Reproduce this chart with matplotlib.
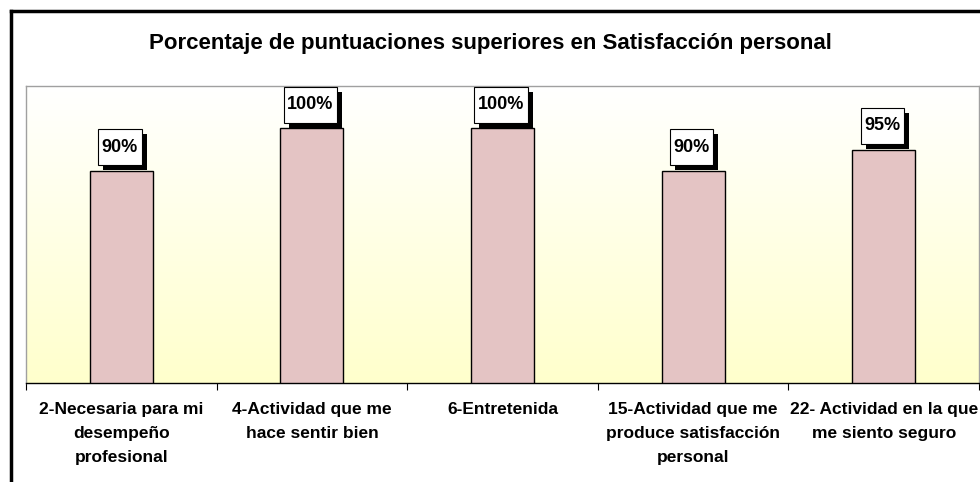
import matplotlib
matplotlib.use("Agg")
import matplotlib.pyplot as plt
import matplotlib.patheffects as pe
from matplotlib.lines import Line2D
from matplotlib.path import Path
import numpy as np

categories = [
    "2-Necesaria para mi\ndesempeño\nprofesional",
    "4-Actividad que me\nhace sentir bien",
    "6-Entretenida",
    "15-Actividad que me\nproduce satisfacción\npersonal",
    "22- Actividad en la que\nme siento seguro",
]
values = [90, 100, 100, 90, 95]
value_labels = ["90%", "100%", "100%", "90%", "95%"]
title = "Porcentaje de puntuaciones superiores en Satisfacción personal"

plt.rcParams['font.family'] = ['Liberation Sans', 'DejaVu Sans']


def label_box(x0, y0, width, height, mutation_size):
    px = 0.2 * mutation_size
    py = 0.52 * mutation_size
    x0, y0 = x0 - px, y0 - py
    x1, y1 = x0 + width + 2 * px, y0 + height + 2 * py
    return Path([(x0, y0), (x1, y0), (x1, y1), (x0, y1), (x0, y0)], closed=True)


fig = plt.figure(figsize=(9.8, 4.82), dpi=100)
ax = fig.add_axes([26/980, 1-383/482, (979-26)/980, (383-86)/482])

ymin, ymax = 40, 110
x = np.arange(len(values))

# gradient background (white at top -> light yellow at bottom)
grad = np.linspace(0, 1, 256).reshape(-1, 1)
top = np.array([1.0, 1.0, 1.0])
bot = np.array([1.0, 1.0, 0.80])
img = top[None, None, :] * (1-grad[:, :, None]) + bot[None, None, :] * grad[:, :, None]
ax.imshow(img, extent=(-0.5, len(values)-0.5, ymin, ymax), origin='upper', aspect='auto', zorder=0)
ax.set_ylim(ymin, ymax)
ax.set_xlim(-0.5, len(values)-0.5)

bars = ax.bar(x, values, width=0.33, color='#E4C4C4', edgecolor='black', linewidth=1.0, zorder=2)

for xi, v, lab in zip(x, values, value_labels):
    t = ax.annotate(lab, (xi, v), xytext=(-1, 11), textcoords='offset points',
                    ha='center', va='bottom', fontsize=13, fontweight='bold',
                    bbox=dict(boxstyle=label_box, fc='white', ec='black', lw=0.8),
                    zorder=5)
    t.get_bbox_patch().set_path_effects([
        pe.SimplePatchShadow(offset=(3.6, -3.6), shadow_rgbFace='black', alpha=1.0),
        pe.Normal()])

ax.set_xticks(x)
ax.set_xticklabels(categories, fontsize=12.5, fontweight='bold', linespacing=1.72)
ax.set_xticks(np.arange(-0.5, len(values)), minor=True)
ax.tick_params(axis='x', which='major', length=0, pad=14)
ax.tick_params(axis='x', which='minor', length=5, color='black', width=0.8)
ax.set_yticks([])

for s in ['top', 'left', 'right']:
    ax.spines[s].set_color('#A0A0A0')
    ax.spines[s].set_linewidth(1.0)
ax.spines['bottom'].set_color('black')
ax.spines['bottom'].set_linewidth(1.0)

fig.text(490/980, 1-44/482, title, ha='center', va='center', fontsize=16, fontweight='bold')

# outer frame
fig.add_artist(Line2D([11/980, 11/980], [0, 1-11/482], color='black', lw=2.5, transform=fig.transFigure))
fig.add_artist(Line2D([11/980, 1], [1-11/482, 1-11/482], color='black', lw=2.5, transform=fig.transFigure))

fig.savefig('out.png', dpi=100)
